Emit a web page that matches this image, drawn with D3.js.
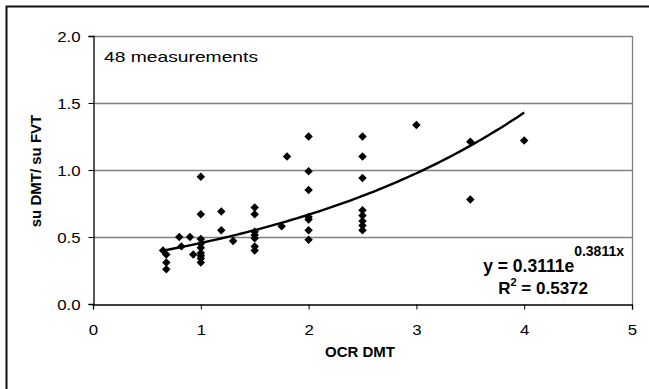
<!DOCTYPE html>
<html>
<head>
<meta charset="utf-8">
<script src="https://cdn.jsdelivr.net/npm/d3@7"></script>
<style>
  html, body { margin: 0; padding: 0; background: #fff; }
  svg { display: block; font-family: "Liberation Sans", Arial, sans-serif; }
</style>
</head>
<body>
<svg id="chart" width="649" height="389"></svg>
<script>
// OCR DMT (x) against su DMT / su FVT (y), 48 measurements
const ocrValues = [
  0.65, 0.68, 0.68, 0.68,
  0.80, 0.82,
  0.90, 0.93,
  1.00, 1.00, 1.00, 1.00, 1.00, 1.00, 1.00, 1.00, 1.00,
  1.19, 1.19,
  1.30,
  1.50, 1.50, 1.50, 1.50, 1.50, 1.50, 1.50,
  1.75,
  1.80,
  2.00, 2.00, 2.00, 2.00, 2.00, 2.00, 2.00,
  2.50, 2.50, 2.50, 2.50, 2.50, 2.50, 2.50, 2.50,
  3.00,
  3.50, 3.50,
  4.00
];
const ratioValues = [
  0.40, 0.37, 0.31, 0.26,
  0.50, 0.43,
  0.50, 0.37,
  0.95, 0.67, 0.485, 0.45, 0.42, 0.38, 0.36, 0.34, 0.31,
  0.69, 0.55,
  0.47,
  0.72, 0.67, 0.54, 0.515, 0.49, 0.43, 0.40,
  0.58,
  1.10,
  1.25, 0.99, 0.85, 0.65, 0.63, 0.55, 0.48,
  1.25, 1.10, 0.94, 0.70, 0.66, 0.62, 0.585, 0.55,
  1.335,
  1.21, 0.78,
  1.22
];
const xTicks = [0, 1, 2, 3, 4, 5];
const yTicks = [0.0, 0.5, 1.0, 1.5, 2.0];

// exponential trend: y = a * e^(b x)
const trendA = 0.3111;
const trendB = 0.3811;
const trendR2 = 0.5372;

const svg = d3.select("#chart");
const plot = { left: 93, right: 632, top: 36, bottom: 304 };
const labelStretch = 1.2;   // wide rendering of the regular-weight labels

const x = d3.scaleLinear().domain([0, 5]).range([plot.left, plot.right]);
const y = d3.scaleLinear().domain([0, 2]).range([plot.bottom, plot.top]);

// outer chart frame
svg.append("rect")
  .attr("x", 6.5).attr("y", 6.5)
  .attr("width", 660).attr("height", 400)
  .attr("fill", "none").attr("stroke", "#111").attr("stroke-width", 2);

// horizontal gridlines
svg.append("g")
  .selectAll("line")
  .data(yTicks.filter(t => t > 0))
  .join("line")
  .attr("x1", plot.left).attr("x2", plot.right)
  .attr("y1", d => Math.round(y(d)) + 0.5).attr("y2", d => Math.round(y(d)) + 0.5)
  .attr("stroke", "#808080").attr("stroke-width", 1.3);

// right border of the plot area
svg.append("line")
  .attr("x1", plot.right + 0.5).attr("x2", plot.right + 0.5)
  .attr("y1", plot.top).attr("y2", plot.bottom)
  .attr("stroke", "#808080").attr("stroke-width", 1.3);

// axes
const xAxis = svg.append("g")
  .attr("transform", `translate(0,${plot.bottom + 0.5})`)
  .call(d3.axisBottom(x).tickValues(xTicks).tickFormat(d3.format("d")).tickSizeOuter(0).tickSize(5));
const yAxis = svg.append("g")
  .attr("transform", `translate(${plot.left + 0.5},0)`)
  .call(d3.axisLeft(y).tickValues(yTicks).tickFormat(d3.format(".1f")).tickSizeOuter(0).tickSize(5));

[xAxis, yAxis].forEach(g => {
  g.select(".domain").attr("stroke", "#000").attr("stroke-width", 1.3);
  g.selectAll(".tick line").attr("stroke", "#000");
  g.selectAll(".tick text")
    .attr("fill", "#000")
    .style("font-size", "14px")
    .style("font-family", "'Liberation Sans', Arial, sans-serif");
});
xAxis.selectAll(".tick text")
  .attr("y", null).attr("dy", null)
  .attr("transform", `translate(0,30) scale(${labelStretch},1)`);
yAxis.selectAll(".tick text")
  .attr("x", null).attr("dy", null)
  .attr("transform", `translate(-13,5) scale(${labelStretch},1)`);

// trend curve over the measured OCR range
const xMin = d3.min(ocrValues), xMax = d3.max(ocrValues);
const trendPts = d3.range(0, 101).map(i => {
  const xv = xMin + (xMax - xMin) * i / 100;
  return [xv, trendA * Math.exp(trendB * xv)];
});
svg.append("path")
  .datum(trendPts)
  .attr("fill", "none")
  .attr("stroke", "#000")
  .attr("stroke-width", 2.4)
  .attr("d", d3.line().x(d => x(d[0])).y(d => y(d[1])));

// measurement markers: square diamonds
const squareDiamond = {
  draw(ctx, size) {
    const r = Math.sqrt(size / 2);
    ctx.moveTo(0, -r); ctx.lineTo(r, 0); ctx.lineTo(0, r); ctx.lineTo(-r, 0); ctx.closePath();
  }
};
const marker = d3.symbol().type(squareDiamond).size(36);
svg.append("g")
  .selectAll("path")
  .data(ocrValues.map((v, i) => [v, ratioValues[i]]))
  .join("path")
  .attr("transform", d => `translate(${x(d[0])},${y(d[1])})`)
  .attr("d", marker)
  .attr("fill", "#000");

// annotations
svg.append("text")
  .attr("transform", `translate(104,62) scale(${labelStretch},1)`)
  .style("font-size", "14px")
  .attr("textLength", 154 / labelStretch)
  .attr("lengthAdjust", "spacingAndGlyphs")
  .text(`${ocrValues.length} measurements`);

// trend equation: base text and raised exponent as separate pieces
const eqExp = svg.append("text")
  .attr("x", 624).attr("y", 256)
  .attr("text-anchor", "end")
  .style("font-size", "14px").style("font-weight", "bold")
  .text(`${trendB}x`);
const expWidth = eqExp.node().getComputedTextLength();
svg.append("text")
  .attr("x", 624 - expWidth).attr("y", 272)
  .attr("text-anchor", "end")
  .style("font-size", "17.5px").style("font-weight", "bold")
  .text(`y = ${trendA}e`);

const r2 = svg.append("text")
  .attr("x", 588).attr("y", 294)
  .attr("text-anchor", "end")
  .style("font-size", "17px").style("font-weight", "bold");
r2.append("tspan").text("R");
r2.append("tspan").attr("dy", -8).style("font-size", "11px").text("2");
r2.append("tspan").attr("dy", 8).text(` = ${trendR2}`);

// axis titles
svg.append("text")
  .attr("x", 360).attr("y", 357)
  .attr("text-anchor", "middle")
  .style("font-size", "15px").style("font-weight", "bold")
  .text("OCR DMT");

svg.append("text")
  .attr("transform", "translate(41,171) rotate(-90)")
  .attr("text-anchor", "middle")
  .style("font-size", "15px").style("font-weight", "bold")
  .text("su DMT/ su FVT");
</script>
</body>
</html>
